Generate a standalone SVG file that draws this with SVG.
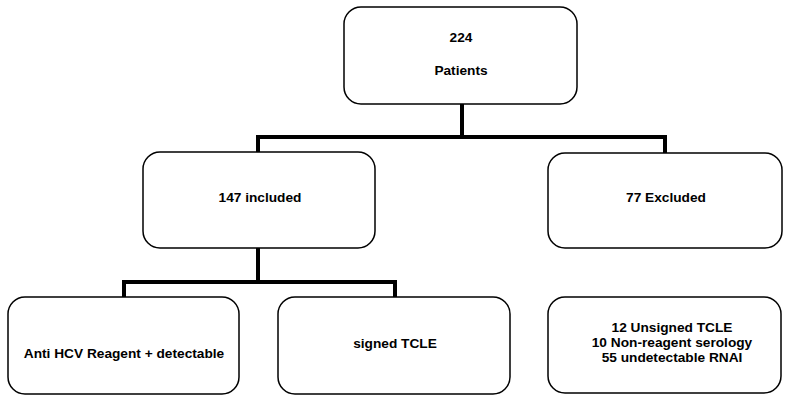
<svg xmlns="http://www.w3.org/2000/svg" width="789" height="401" viewBox="0 0 789 401">
<style>
.box{fill:#fff;stroke:#000;stroke-width:1.5}
.t{font-family:"Liberation Sans",Arial,sans-serif;font-weight:bold;font-size:13.7px;fill:#000;text-anchor:middle;dominant-baseline:central}
.c{fill:none;stroke:#000;stroke-width:4;stroke-linecap:square;stroke-linejoin:miter}
</style>
<rect width="789" height="401" fill="#fff"/>
<g id="connectors">
<path class="c" d="M462 105V137M258 152V137H665V152"/>
<path class="c" d="M258 249V282M124 296V282H395V296"/>
</g>
<g id="n224">
<rect class="box" x="344" y="7" width="233" height="97" rx="17"/>
<text class="t" x="461" y="37">224</text>
<text class="t" x="461" y="70">Patients</text>
</g>
<g id="n147">
<rect class="box" x="143" y="152" width="232" height="96" rx="17"/>
<text class="t" x="260" y="197">147 included</text>
</g>
<g id="n77">
<rect class="box" x="548" y="153" width="234" height="95" rx="17"/>
<text class="t" x="666" y="197">77 Excluded</text>
</g>
<g id="nAnti">
<rect class="box" x="8" y="297" width="231" height="97" rx="17"/>
<text class="t" x="124" y="353">Anti HCV Reagent + detectable</text>
</g>
<g id="nSigned">
<rect class="box" x="278" y="297" width="232" height="97" rx="17"/>
<text class="t" x="395" y="343">signed TCLE</text>
</g>
<g id="nExcl">
<rect class="box" x="548" y="297" width="233" height="96" rx="17"/>
<text class="t" x="672" y="327">12 Unsigned TCLE</text>
<text class="t" x="672" y="342">10 Non-reagent serology</text>
<text class="t" x="672" y="357">55 undetectable RNAI</text>
</g>
</svg>
